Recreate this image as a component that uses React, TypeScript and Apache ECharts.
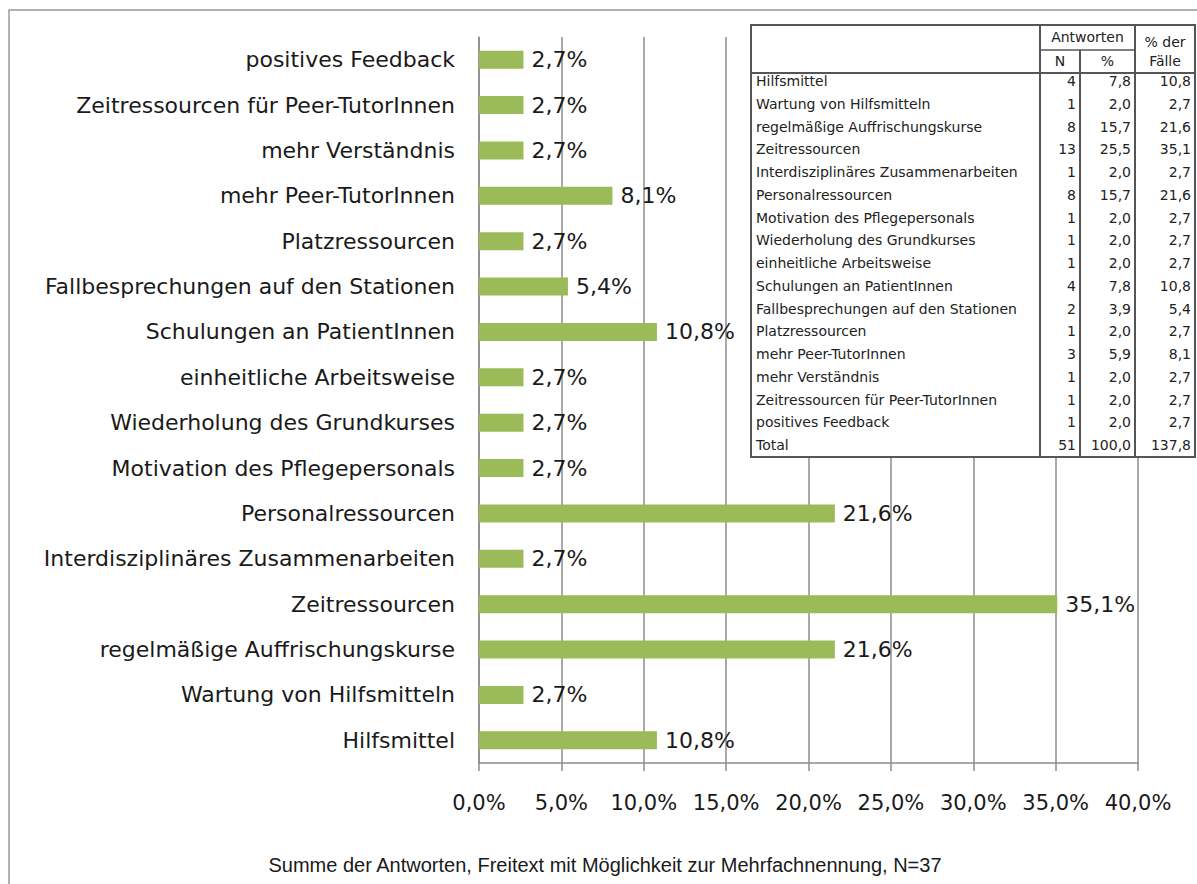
import React, { useEffect, useRef } from "react";
import * as echarts from "echarts";

const categories = [
  "Hilfsmittel",
  "Wartung von Hilfsmitteln",
  "regelmäßige Auffrischungskurse",
  "Zeitressourcen",
  "Interdisziplinäres Zusammenarbeiten",
  "Personalressourcen",
  "Motivation des Pflegepersonals",
  "Wiederholung des Grundkurses",
  "einheitliche Arbeitsweise",
  "Schulungen an PatientInnen",
  "Fallbesprechungen auf den Stationen",
  "Platzressourcen",
  "mehr Peer-TutorInnen",
  "mehr Verständnis",
  "Zeitressourcen für Peer-TutorInnen",
  "positives Feedback",
];
const percentOfCases = [10.8, 2.7, 21.6, 35.1, 2.7, 21.6, 2.7, 2.7, 2.7, 10.8, 5.4, 2.7, 8.1, 2.7, 2.7, 2.7];
const answersN = [4, 1, 8, 13, 1, 8, 1, 1, 1, 4, 2, 1, 3, 1, 1, 1];
const answersPct = [7.8, 2.0, 15.7, 25.5, 2.0, 15.7, 2.0, 2.0, 2.0, 7.8, 3.9, 2.0, 5.9, 2.0, 2.0, 2.0];
const totalN = 51;
const totalPct = 100.0;
const totalCases = 137.8;
const footnote = "Summe der Antworten, Freitext mit Möglichkeit zur Mehrfachnennung, N=37";

const ARIAL = "'Liberation Sans', Arial, sans-serif";
const WIDE = "'DejaVu Sans', sans-serif";
const fmt = (v: number) => v.toFixed(1).replace(".", ",");

function buildTable(): any[] {
  const x0 = 751, x1 = 1195, y0 = 25, y1 = 457;
  const cN = 1040, cP = 1080, cF = 1135;
  const hMid = 50, hBot = 73;
  const rowTop = 81, rowStep = 22.75;
  const Z = 100;
  const lineStyle = { stroke: "#555", lineWidth: 2 };
  const els: any[] = [];
  els.push({ type: "rect", z: Z, shape: { x: x0, y: y0, width: x1 - x0, height: y1 - y0 }, style: { fill: "#fff", stroke: "#555", lineWidth: 2 } });
  els.push({ type: "line", z: Z + 1, shape: { x1: x0, y1: hBot, x2: x1, y2: hBot }, style: lineStyle });
  els.push({ type: "line", z: Z + 1, shape: { x1: cN, y1: hMid, x2: cF, y2: hMid }, style: { stroke: "#555", lineWidth: 1.5 } });
  els.push({ type: "line", z: Z + 1, shape: { x1: cN, y1: y0, x2: cN, y2: y1 }, style: lineStyle });
  els.push({ type: "line", z: Z + 1, shape: { x1: cP, y1: hMid, x2: cP, y2: y1 }, style: lineStyle });
  els.push({ type: "line", z: Z + 1, shape: { x1: cF, y1: y0, x2: cF, y2: y1 }, style: lineStyle });
  const txt = (text: string, x: number, y: number, align: string) => ({
    type: "text",
    z: Z + 2,
    x, y,
    style: { text, fill: "#222", font: `14px ${WIDE}`, align, verticalAlign: "middle" },
  });
  els.push(txt("Antworten", (cN + cF) / 2, 37, "center"));
  els.push(txt("N", (cN + cP) / 2, 61, "center"));
  els.push(txt("%", (cP + cF) / 2, 61, "center"));
  els.push(txt("% der", (cF + x1) / 2, 42, "center"));
  els.push(txt("Fälle", (cF + x1) / 2, 61, "center"));
  const rows = categories.map((c, i) => [c, String(answersN[i]), fmt(answersPct[i]), fmt(percentOfCases[i])]);
  rows.push(["Total", String(totalN), fmt(totalPct), fmt(totalCases)]);
  rows.forEach((r, i) => {
    const y = rowTop + i * rowStep;
    els.push(txt(r[0], 756, y, "left"));
    els.push(txt(r[1], cP - 4, y, "right"));
    els.push(txt(r[2], cF - 4, y, "right"));
    els.push(txt(r[3], x1 - 4, y, "right"));
  });
  return els;
}

export default function App() {
  const ref = useRef<HTMLDivElement>(null);
  useEffect(() => {
    document.body.style.margin = "0";
    const chart = echarts.init(ref.current!, null, { renderer: "svg" });
    chart.setOption({
      animation: false,
      backgroundColor: "#fff",
      grid: { left: 479, top: 37, width: 659, height: 726, containLabel: false },
      xAxis: {
        type: "value",
        min: 0,
        max: 40,
        interval: 5,
        axisLine: { show: true, lineStyle: { color: "#8c8c8c", width: 1.5 } },
        axisTick: { show: true, length: 8, lineStyle: { color: "#8c8c8c", width: 1.5 } },
        splitLine: { show: true, lineStyle: { color: "#8c8c8c", width: 1.5 } },
        axisLabel: {
          formatter: (v: number) => fmt(v) + "%",
          fontSize: 21,
          fontFamily: WIDE,
          color: "#1a1a1a",
          margin: 29,
        },
      },
      yAxis: {
        type: "category",
        data: categories,
        axisLine: { show: true, lineStyle: { color: "#8c8c8c", width: 1.5 } },
        axisTick: { show: false },
        axisLabel: { fontSize: 22, fontFamily: WIDE, color: "#1a1a1a", margin: 24 },
      },
      series: [
        {
          type: "bar",
          data: percentOfCases,
          barWidth: 18,
          itemStyle: { color: "#9bbb59" },
          label: {
            show: true,
            position: "right",
            distance: 8,
            fontSize: 22,
            fontFamily: WIDE,
            color: "#1a1a1a",
            formatter: (p: any) => fmt(p.value) + "%",
          },
        },
      ],
      graphic: [
        { type: "rect", z: 90, shape: { x: 9, y: 10, width: 1200, height: 900 }, style: { fill: "none", stroke: "#999", lineWidth: 1.5 } },
        { type: "text", z: 90, x: 605, y: 865, style: { text: footnote, font: `20px ${ARIAL}`, fill: "#1a1a1a", align: "center", verticalAlign: "middle" } },
        { type: "group", z: 100, children: buildTable() },
      ],
    });
    return () => chart.dispose();
  }, []);
  return <div ref={ref} style={{ width: 1197, height: 884 }} />;
}
